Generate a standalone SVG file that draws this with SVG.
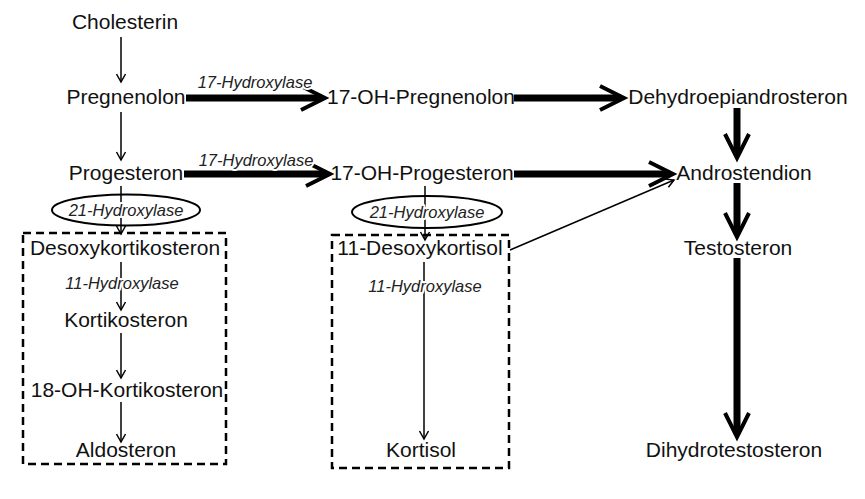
<svg xmlns="http://www.w3.org/2000/svg" width="865" height="499" viewBox="0 0 865 499">
<style>
.n{font-family:"Liberation Sans",Arial,sans-serif;font-size:21px;fill:#111;text-anchor:middle}
.e{font-family:"Liberation Sans",Arial,sans-serif;font-size:16.5px;font-style:italic;fill:#222;text-anchor:middle;stroke:#fff;stroke-width:4;paint-order:stroke;stroke-linejoin:round}
.thin{stroke:#000;stroke-width:1.5;fill:none;marker-end:url(#ah)}
.thick{stroke:#000;stroke-width:7;fill:none;marker-end:url(#AH)}
.box{fill:none;stroke:#000;stroke-width:2.5;stroke-dasharray:8 5}
.ell{fill:none;stroke:#000;stroke-width:2}
</style>
<defs>
<marker id="ah" markerUnits="userSpaceOnUse" markerWidth="12" markerHeight="12" refX="8" refY="4.5" orient="auto" overflow="visible">
<path d="M0,0 L8,4.5 L0,9" fill="none" stroke="#000" stroke-width="1.5"/>
</marker>
<marker id="AH" markerUnits="userSpaceOnUse" markerWidth="30" markerHeight="30" refX="21" refY="12" orient="auto" overflow="visible">
<path d="M0,0 L24,12 L0,24" fill="none" stroke="#000" stroke-width="4"/>
</marker>
</defs>
<rect width="865" height="499" fill="#fff"/>
<g id="connectors">
<line class="thin" x1="121" y1="37" x2="121" y2="82"/>
<line class="thin" x1="121" y1="112" x2="121" y2="160"/>
<line class="thin" x1="121" y1="186" x2="121" y2="234"/>
<line class="thin" x1="121" y1="262" x2="121" y2="310"/>
<line class="thin" x1="121" y1="333" x2="121" y2="378"/>
<line class="thin" x1="121" y1="402" x2="121" y2="442"/>
<line class="thin" x1="425" y1="186" x2="425" y2="240"/>
<line class="thin" x1="424" y1="262" x2="424" y2="439"/>
<line class="thin" x1="510" y1="250" x2="674" y2="180"/>
<line class="thick" x1="186" y1="98" x2="322" y2="98"/>
<line class="thick" x1="514" y1="98" x2="621" y2="98"/>
<line class="thick" x1="184" y1="174" x2="327" y2="174"/>
<line class="thick" x1="514" y1="174" x2="670" y2="174"/>
<line class="thick" x1="737" y1="108" x2="737" y2="155"/>
<line class="thick" x1="737" y1="183" x2="737" y2="234"/>
<line class="thick" x1="737" y1="258" x2="737" y2="434"/>
</g>
<g id="box-mineralo"><rect class="box" x="23" y="233" width="203" height="231"/></g>
<g id="box-gluco"><rect class="box" x="332" y="235" width="177" height="233"/></g>
<g id="enz-17a"><text class="e" x="255" y="88">17-Hydroxylase</text></g>
<g id="enz-17b"><text class="e" x="256" y="166">17-Hydroxylase</text></g>
<g id="enz-21a"><ellipse class="ell" cx="126" cy="210" rx="74" ry="15.5"/><text class="e" x="126" y="216">21-Hydroxylase</text></g>
<g id="enz-21b"><ellipse class="ell" cx="427" cy="212" rx="75" ry="16"/><text class="e" x="427" y="218">21-Hydroxylase</text></g>
<g id="enz-11a"><text class="e" x="122" y="289">11-Hydroxylase</text></g>
<g id="enz-11b"><text class="e" x="425" y="292">11-Hydroxylase</text></g>
<g id="cholesterin"><text class="n" x="125" y="29">Cholesterin</text></g>
<g id="pregnenolon"><text class="n" x="126" y="104">Pregnenolon</text></g>
<g id="oh-pregnenolon"><text class="n" x="421" y="104">17-OH-Pregnenolon</text></g>
<g id="dhea"><text class="n" x="738" y="104">Dehydroepiandrosteron</text></g>
<g id="progesteron"><text class="n" x="126" y="180">Progesteron</text></g>
<g id="oh-progesteron"><text class="n" x="422" y="180">17-OH-Progesteron</text></g>
<g id="androstendion"><text class="n" x="744" y="180">Androstendion</text></g>
<g id="desoxykortikosteron"><text class="n" x="125" y="255">Desoxykortikosteron</text></g>
<g id="desoxykortisol"><text class="n" x="420" y="255">11-Desoxykortisol</text></g>
<g id="testosteron"><text class="n" x="738" y="255">Testosteron</text></g>
<g id="kortikosteron"><text class="n" x="126" y="327">Kortikosteron</text></g>
<g id="oh-kortikosteron"><text class="n" x="127" y="397">18-OH-Kortikosteron</text></g>
<g id="aldosteron"><text class="n" x="126" y="457">Aldosteron</text></g>
<g id="kortisol"><text class="n" x="421" y="457">Kortisol</text></g>
<g id="dht"><text class="n" x="734" y="457">Dihydrotestosteron</text></g>
</svg>
